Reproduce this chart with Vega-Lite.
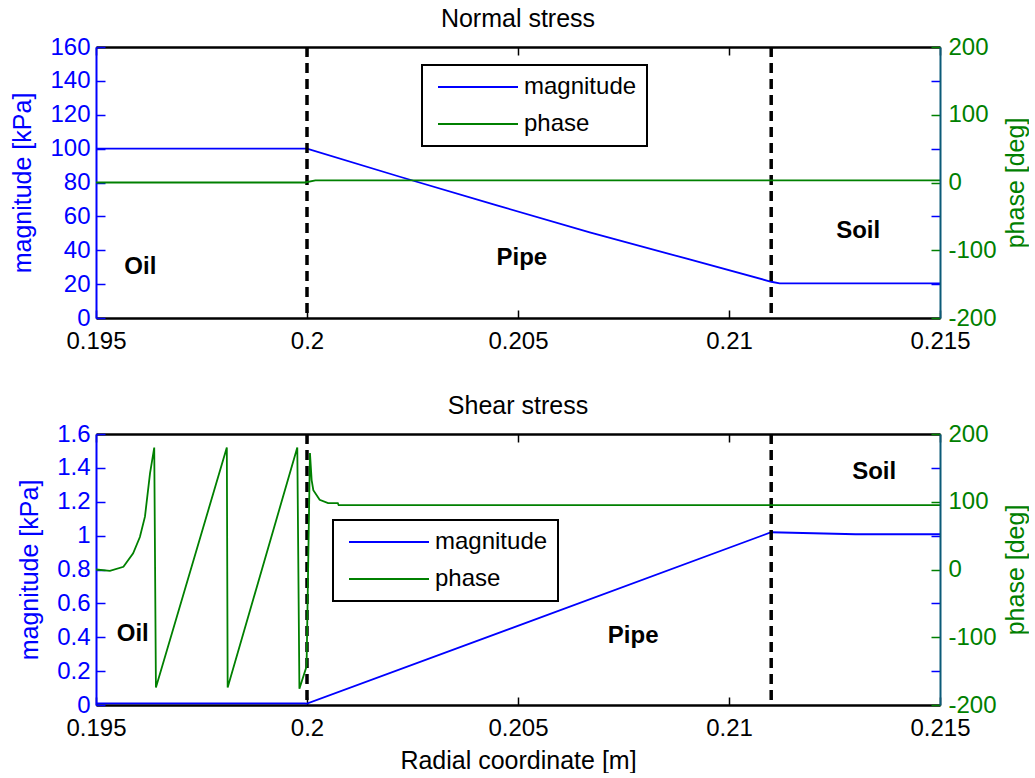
{
  "$schema": "https://vega.github.io/schema/vega-lite/v6.json",
  "padding": {"left": 10, "top": 7, "right": 0, "bottom": 0},
  "background": "white",
  "spacing": 41,
  "config": {
    "font": "Liberation Sans",
    "view": {"stroke": null},
    "axis": {"grid": false, "labelFont": "Liberation Sans", "labelFontSize": 24, "titleFont": "Liberation Sans", "titleFontSize": 25, "titleFontWeight": "normal", "labelOverlap": false, "labelFlush": false, "labelBound": false},
    "legend": {"orient": "none", "title": null, "symbolType": "stroke", "symbolSize": 6400, "symbolStrokeWidth": 2, "symbolOffset": 5, "clipHeight": 24, "labelFontSize": 24, "labelFont": "Liberation Sans", "labelColor": "black", "strokeColor": "black", "strokeWidth": 2, "fillColor": "white", "padding": 10, "labelOffset": 5, "rowPadding": 13},
    "title": {"font": "Liberation Sans", "fontSize": 25, "fontWeight": "normal", "color": "black", "anchor": "middle", "frame": "group", "baseline": "alphabetic", "offset": 3}
  },
  "datasets": {
    "normal": [
      {"r": 0.195, "series": "magnitude", "v": 100},
      {"r": 0.2, "series": "magnitude", "v": 100},
      {"r": 0.2022, "series": "magnitude", "v": 83.4},
      {"r": 0.2045, "series": "magnitude", "v": 66.5},
      {"r": 0.2067, "series": "magnitude", "v": 50.6},
      {"r": 0.209, "series": "magnitude", "v": 35.0},
      {"r": 0.211, "series": "magnitude", "v": 21.4},
      {"r": 0.2112, "series": "magnitude", "v": 20.4},
      {"r": 0.215, "series": "magnitude", "v": 20.4},
      {"r": 0.195, "series": "phase", "v": 0},
      {"r": 0.19995, "series": "phase", "v": 0},
      {"r": 0.2002, "series": "phase", "v": 3},
      {"r": 0.215, "series": "phase", "v": 3}
    ],
    "shear": [
      {"r": 0.195, "series": "magnitude", "v": 0.01},
      {"r": 0.19995, "series": "magnitude", "v": 0.01},
      {"r": 0.2, "series": "magnitude", "v": 0.008},
      {"r": 0.211, "series": "magnitude", "v": 1.02},
      {"r": 0.213, "series": "magnitude", "v": 1.008},
      {"r": 0.215, "series": "magnitude", "v": 1.008},
      {"r": 0.195, "series": "phase", "v": 0},
      {"r": 0.19533, "series": "phase", "v": -2},
      {"r": 0.19565, "series": "phase", "v": 4},
      {"r": 0.19588, "series": "phase", "v": 24},
      {"r": 0.19604, "series": "phase", "v": 48},
      {"r": 0.19616, "series": "phase", "v": 78},
      {"r": 0.19628, "series": "phase", "v": 142},
      {"r": 0.19638, "series": "phase", "v": 180},
      {"r": 0.19642, "series": "phase", "v": -174},
      {"r": 0.1981, "series": "phase", "v": 180},
      {"r": 0.19812, "series": "phase", "v": -174},
      {"r": 0.19977, "series": "phase", "v": 180},
      {"r": 0.19982, "series": "phase", "v": -176},
      {"r": 0.19999, "series": "phase", "v": -143},
      {"r": 0.20007, "series": "phase", "v": 172},
      {"r": 0.20011, "series": "phase", "v": 132},
      {"r": 0.20015, "series": "phase", "v": 117},
      {"r": 0.2003, "series": "phase", "v": 103},
      {"r": 0.2005, "series": "phase", "v": 98},
      {"r": 0.20073, "series": "phase", "v": 98},
      {"r": 0.20075, "series": "phase", "v": 95},
      {"r": 0.215, "series": "phase", "v": 95}
    ],
    "bounds": [{"r": 0.2}, {"r": 0.211}],
    "labels": [
      {"panel": "normal", "r": 0.19605, "v": 30.3, "label": "Oil"},
      {"panel": "normal", "r": 0.20509, "v": 35.4, "label": "Pipe"},
      {"panel": "normal", "r": 0.21306, "v": 51.5, "label": "Soil"},
      {"panel": "shear", "r": 0.19587, "v": 0.419, "label": "Oil"},
      {"panel": "shear", "r": 0.20773, "v": 0.407, "label": "Pipe"},
      {"panel": "shear", "r": 0.21344, "v": 1.377, "label": "Soil"}
    ]
  },
  "resolve": {"scale": {"color": "independent"}, "legend": {"color": "independent"}},
  "vconcat": [
    {
      "title": {"text": "Normal stress"},
      "width": 844,
      "height": 271,
      "resolve": {"scale": {"x": "independent", "y": "independent"}},
      "layer": [
        {
          "layer": [
            {
              "data": {"name": "normal"},
              "transform": [{"filter": "datum.series === 'magnitude'"}],
              "mark": {"type": "line", "strokeWidth": 1.8},
              "encoding": {
                "x": {"field": "r", "type": "quantitative", "scale": {"domain": [0.195, 0.215], "nice": false, "zero": false},
                  "axis": {"title": null, "values": [0.195, 0.2, 0.205, 0.21, 0.215], "tickCount": 10, "labelExpr": "'' + datum.value", "labelOverlap": false, "domainColor": "black", "domainWidth": 2.5, "tickColor": "black", "tickSize": -8, "tickWidth": 1.5, "labelColor": "black", "labelPadding": 19}},
                "y": {"field": "v", "type": "quantitative", "scale": {"domain": [0, 160], "nice": false},
                  "axis": {"title": "magnitude [kPa]", "values": [0, 20, 40, 60, 80, 100, 120, 140, 160], "tickCount": 20, "labelExpr": "'' + datum.value", "labelOverlap": false, "domainColor": "#0000ff", "domainWidth": 2, "tickColor": "#0000ff", "tickSize": -9, "tickWidth": 1.5, "labelColor": "#0000ff", "titleColor": "#0000ff", "labelPadding": 15, "titlePadding": 14}},
                "color": {"field": "series", "type": "nominal", "scale": {"domain": ["magnitude", "phase"], "range": ["#0000ff", "#008000"]},
                  "legend": {"orient": "none", "legendX": 326, "legendY": 18}}
              }
            },
            {
              "data": {"name": "bounds"},
              "mark": {"type": "rule", "strokeDash": [10, 6], "strokeWidth": 3.5, "color": "black"},
              "encoding": {"x": {"field": "r", "type": "quantitative"}}
            },
            {
              "data": {"name": "labels"},
              "transform": [{"filter": "datum.panel === 'normal'"}],
              "mark": {"type": "text", "fontWeight": "bold", "fontSize": 24, "font": "Liberation Sans", "color": "black", "align": "center", "baseline": "middle"},
              "encoding": {"x": {"field": "r", "type": "quantitative"}, "y": {"field": "v", "type": "quantitative"}, "text": {"field": "label"}}
            }
          ]
        },
        {
          "data": {"name": "normal"},
          "transform": [{"filter": "datum.series === 'phase'"}],
          "mark": {"type": "line", "strokeWidth": 1.8},
          "encoding": {
            "x": {"field": "r", "type": "quantitative", "scale": {"domain": [0.195, 0.215], "nice": false, "zero": false},
              "axis": {"orient": "top", "labels": false, "title": null, "values": [0.195, 0.2, 0.205, 0.21, 0.215], "tickCount": 10, "domainColor": "black", "domainWidth": 2.5, "tickColor": "black", "tickSize": -8, "tickWidth": 1.5}},
            "y": {"field": "v", "type": "quantitative", "scale": {"domain": [-200, 200], "nice": false},
              "axis": {"orient": "right", "title": "phase [deg]", "titleAngle": 270, "titleBaseline": "top", "values": [-200, -100, 0, 100, 200], "tickCount": 10, "labelExpr": "'' + datum.value", "labelOverlap": false, "domainColor": "#0b5a78", "domainWidth": 2, "tickColor": "#008000", "tickSize": -9, "tickWidth": 1.5, "labelColor": "#008000", "titleColor": "#008000", "labelPadding": 17, "titlePadding": 7, "zindex": 2}},
            "color": {"field": "series", "type": "nominal", "scale": {"domain": ["magnitude", "phase"], "range": ["#0000ff", "#008000"]}}
          }
        },
        {
          "data": {"name": "normal"},
          "transform": [{"filter": "datum.series === 'magnitude'"}],
          "mark": {"type": "line", "strokeOpacity": 0},
          "encoding": {
            "x": {"field": "r", "type": "quantitative", "scale": {"domain": [0.195, 0.215], "nice": false, "zero": false}, "axis": null},
            "y": {"field": "v", "type": "quantitative", "scale": {"domain": [0, 160], "nice": false},
              "axis": {"orient": "right", "labels": false, "domain": false, "title": null, "values": [20, 60, 100, 140], "tickCount": 10, "tickColor": "#0000ff", "tickSize": -9, "tickWidth": 1.5, "zindex": 1}}
          }
        }
      ]
    },
    {
      "title": {"text": "Shear stress"},
      "width": 844,
      "height": 271,
      "resolve": {"scale": {"x": "independent", "y": "independent"}},
      "layer": [
        {
          "layer": [
            {
              "data": {"name": "shear"},
              "transform": [{"filter": "datum.series === 'magnitude'"}],
              "mark": {"type": "line", "strokeWidth": 1.8},
              "encoding": {
                "x": {"field": "r", "type": "quantitative", "scale": {"domain": [0.195, 0.215], "nice": false, "zero": false},
                  "axis": {"title": "Radial coordinate [m]", "titleColor": "black", "values": [0.195, 0.2, 0.205, 0.21, 0.215], "tickCount": 10, "labelExpr": "'' + datum.value", "labelOverlap": false, "domainColor": "black", "domainWidth": 2.5, "tickColor": "black", "tickSize": -8, "tickWidth": 1.5, "labelColor": "black", "labelPadding": 19, "titlePadding": 8}},
                "y": {"field": "v", "type": "quantitative", "scale": {"domain": [0, 1.6], "nice": false},
                  "axis": {"title": "magnitude [kPa]", "values": [0, 0.2, 0.4, 0.6, 0.8, 1, 1.2, 1.4, 1.6], "tickCount": 20, "labelExpr": "'' + datum.value", "labelOverlap": false, "domainColor": "#0000ff", "domainWidth": 2, "tickColor": "#0000ff", "tickSize": -9, "tickWidth": 1.5, "labelColor": "#0000ff", "titleColor": "#0000ff", "labelPadding": 15, "titlePadding": 14}},
                "color": {"field": "series", "type": "nominal", "scale": {"domain": ["magnitude", "phase"], "range": ["#0000ff", "#008000"]},
                  "legend": {"orient": "none", "legendX": 237, "legendY": 86}}
              }
            },
            {
              "data": {"name": "bounds"},
              "mark": {"type": "rule", "strokeDash": [10, 6], "strokeWidth": 3.5, "color": "black"},
              "encoding": {"x": {"field": "r", "type": "quantitative"}}
            },
            {
              "data": {"name": "labels"},
              "transform": [{"filter": "datum.panel === 'shear'"}],
              "mark": {"type": "text", "fontWeight": "bold", "fontSize": 24, "font": "Liberation Sans", "color": "black", "align": "center", "baseline": "middle"},
              "encoding": {"x": {"field": "r", "type": "quantitative"}, "y": {"field": "v", "type": "quantitative"}, "text": {"field": "label"}}
            }
          ]
        },
        {
          "data": {"name": "shear"},
          "transform": [{"filter": "datum.series === 'phase'"}],
          "mark": {"type": "line", "strokeWidth": 1.8},
          "encoding": {
            "x": {"field": "r", "type": "quantitative", "scale": {"domain": [0.195, 0.215], "nice": false, "zero": false},
              "axis": {"orient": "top", "labels": false, "title": null, "values": [0.195, 0.2, 0.205, 0.21, 0.215], "tickCount": 10, "domainColor": "black", "domainWidth": 2.5, "tickColor": "black", "tickSize": -8, "tickWidth": 1.5}},
            "y": {"field": "v", "type": "quantitative", "scale": {"domain": [-200, 200], "nice": false},
              "axis": {"orient": "right", "title": "phase [deg]", "titleAngle": 270, "titleBaseline": "top", "values": [-200, -100, 0, 100, 200], "tickCount": 10, "labelExpr": "'' + datum.value", "labelOverlap": false, "domainColor": "#0b5a78", "domainWidth": 2, "tickColor": "#008000", "tickSize": -9, "tickWidth": 1.5, "labelColor": "#008000", "titleColor": "#008000", "labelPadding": 17, "titlePadding": 7, "zindex": 2}},
            "color": {"field": "series", "type": "nominal", "scale": {"domain": ["magnitude", "phase"], "range": ["#0000ff", "#008000"]}}
          }
        },
        {
          "data": {"name": "shear"},
          "transform": [{"filter": "datum.series === 'magnitude'"}],
          "mark": {"type": "line", "strokeOpacity": 0},
          "encoding": {
            "x": {"field": "r", "type": "quantitative", "scale": {"domain": [0.195, 0.215], "nice": false, "zero": false}, "axis": null},
            "y": {"field": "v", "type": "quantitative", "scale": {"domain": [0, 1.6], "nice": false},
              "axis": {"orient": "right", "labels": false, "domain": false, "title": null, "values": [0.2, 0.6, 1, 1.4], "tickCount": 10, "tickColor": "#0000ff", "tickSize": -9, "tickWidth": 1.5, "zindex": 1}}
          }
        }
      ]
    }
  ]
}
